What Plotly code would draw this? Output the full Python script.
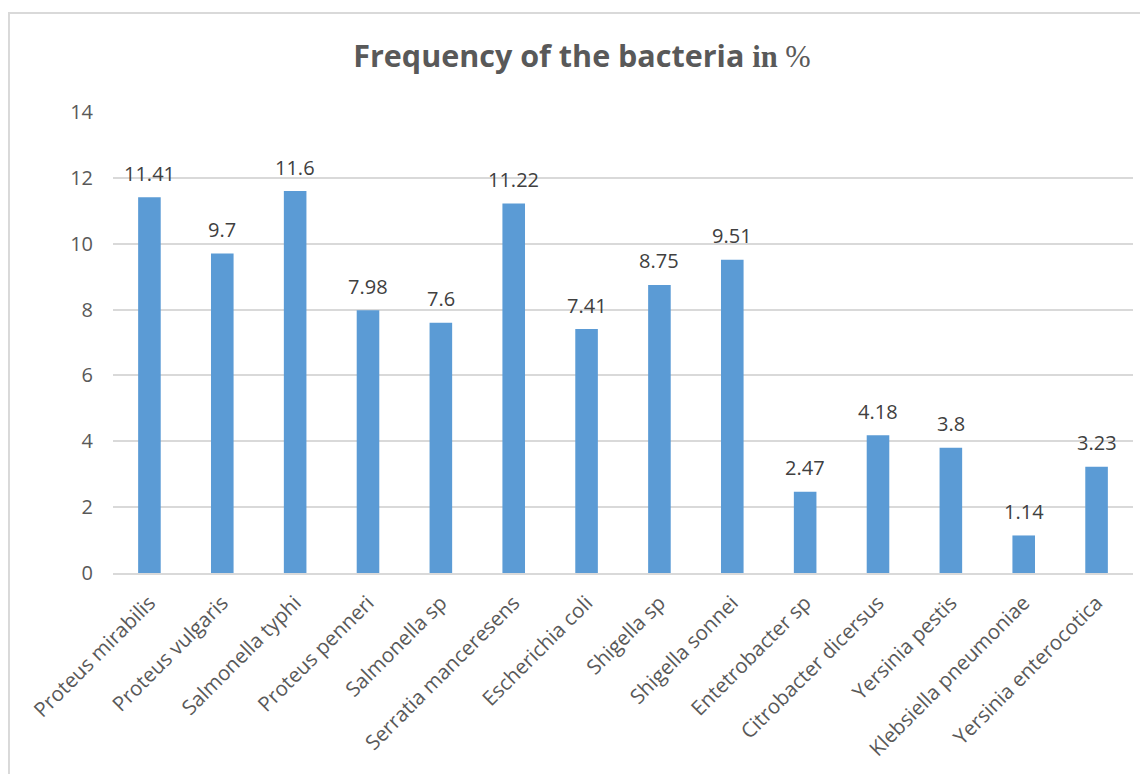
import plotly.graph_objects as go

categories = ["Proteus mirabilis", "Proteus vulgaris", "Salmonella typhi", "Proteus penneri",
              "Salmonella sp", "Serratia manceresens", "Escherichia coli", "Shigella sp",
              "Shigella sonnei", "Entetrobacter sp", "Citrobacter dicersus", "Yersinia pestis",
              "Klebsiella pneumoniae", "Yersinia enterocotica"]
values = [11.41, 9.7, 11.6, 7.98, 7.6, 11.22, 7.41, 8.75, 9.51, 2.47, 4.18, 3.8, 1.14, 3.23]
value_labels = ["11.41", "9.7", "11.6", "7.98", "7.6", "11.22", "7.41", "8.75", "9.51",
                "2.47", "4.18", "3.8", "1.14", "3.23"]
y_ticks = [0, 2, 4, 6, 8, 10, 12, 14]

GRAY = "#595959"
fig = go.Figure(go.Bar(x=categories, y=values, marker_color="#5B9BD5",
                       marker_line_width=0, hoverinfo="skip"))

for c, v, t in zip(categories, values, value_labels):
    fig.add_annotation(x=c, y=v, text=t, showarrow=False, yanchor="middle", yshift=24,
                       font=dict(family="Open Sans", size=20, color="#404040"))

fig.add_shape(type="rect", xref="paper", yref="paper", x0=-0.102, x1=1.05, y0=-0.6, y1=1.2148,
              line=dict(color="#D9D9D9", width=2), fillcolor="rgba(0,0,0,0)", layer="below")

fig.update_layout(
    width=1148, height=774,
    margin=dict(l=105, r=23, t=104, b=209),
    paper_bgcolor="white", plot_bgcolor="white",
    bargap=0.69,
    showlegend=False,
    title=dict(text="<b>Frequency of the bacteria </b>"
                    "<span style='font-family:Liberation Serif'><b>in</b> %</span>",
               x=0.5, xanchor="center", y=1 - 48 / 774, yanchor="middle",
               font=dict(family="Open Sans", size=30.5, color=GRAY)),
    xaxis=dict(tickangle=-45, tickfont=dict(family="Open Sans", size=20.5, color=GRAY),
               showgrid=False, showline=True, linecolor="#D9D9D9", linewidth=1.5, ticks="",
               ticklabelstandoff=8),
    yaxis=dict(range=[0, 14], tickvals=y_ticks, showgrid=True, gridcolor="#D9D9D9", gridwidth=1.5,
               zeroline=False, showline=False, ticks="",
               tickfont=dict(family="Open Sans", size=20, color=GRAY), ticklabelstandoff=19),
)
fig.write_html("out.html")
